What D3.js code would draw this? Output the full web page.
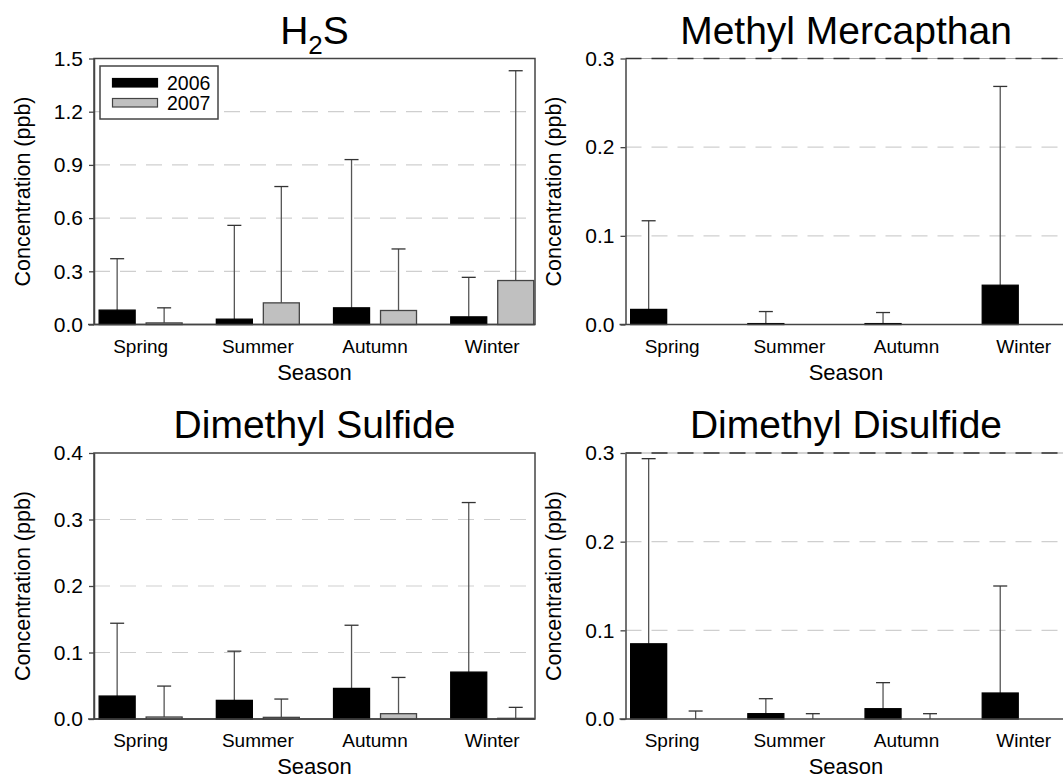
<!DOCTYPE html>
<html>
<head>
<meta charset="utf-8">
<script src="https://cdn.jsdelivr.net/npm/d3@7"></script>
<style>
  body { margin: 0; background: #fff; }
  svg { display: block; font-family: "Liberation Sans", Arial, sans-serif; }
</style>
</head>
<body>
<div id="chart"></div>
<script>
const seasons = ["Spring", "Summer", "Autumn", "Winter"];
const years = ["2006", "2007"];

// mean concentration and top of error bar (ppb), per season
const h2s2006 = [0.081, 0.03, 0.094, 0.043];
const h2s2007 = [0.009, 0.122, 0.079, 0.248];
const h2sUpper2006 = [0.371, 0.559, 0.93, 0.266];
const h2sUpper2007 = [0.094, 0.778, 0.426, 1.431];

const mm2006 = [0.017, 0.001, 0.001, 0.0443];
const mm2007 = [null, null, null, null];
const mmUpper2006 = [0.117, 0.0146, 0.0135, 0.2685];
const mmUpper2007 = [null, null, null, null];

const dms2006 = [0.0345, 0.028, 0.046, 0.0705];
const dms2007 = [0.003, 0.0025, 0.008, 0.001];
const dmsUpper2006 = [0.144, 0.102, 0.141, 0.3255];
const dmsUpper2007 = [0.0495, 0.03, 0.0625, 0.0175];

const dmds2006 = [0.0848, 0.006, 0.0116, 0.0293];
const dmds2007 = [0, 0, 0, null];
const dmdsUpper2006 = [0.2936, 0.0229, 0.041, 0.15];
const dmdsUpper2007 = [0.009, 0.006, 0.006, null];

const width = 1063;
const height = 778;
const plotW = 441;
const plotH = 266;
const font = '"Liberation Sans", Arial, sans-serif';
const axisColor = "#444";
const barColors = { 2006: "#000", 2007: "#c0c0c0" };

const panels = [
  { title: "H2S", yMax: 1.5, step: 0.3, means: [h2s2006, h2s2007], upper: [h2sUpper2006, h2sUpper2007],
    left: 94, top: 58.5, box: true, legend: true, labelX: 22 },
  { title: "Methyl Mercapthan", yMax: 0.3, step: 0.1, means: [mm2006, mm2007], upper: [mmUpper2006, mmUpper2007],
    left: 625.5, top: 58.5, box: false, labelX: 553 },
  { title: "Dimethyl Sulfide", yMax: 0.4, step: 0.1, means: [dms2006, dms2007], upper: [dmsUpper2006, dmsUpper2007],
    left: 94, top: 453, box: true, labelX: 22 },
  { title: "Dimethyl Disulfide", yMax: 0.3, step: 0.1, means: [dmds2006, dmds2007], upper: [dmdsUpper2006, dmdsUpper2007],
    left: 625.5, top: 453, box: false, labelX: 553 },
];

const svg = d3
  .select("#chart")
  .append("svg")
  .attr("width", width)
  .attr("height", height);

svg.append("rect").attr("width", width).attr("height", height).attr("fill", "#fff");

const drawPanel = (p) => {
  const g = svg.append("g").attr("transform", `translate(${p.left},${p.top})`);

  const x0 = d3
    .scaleBand()
    .domain(seasons)
    .range([0, plotW])
    .paddingInner(0.292)
    .paddingOuter(0.0275)
    .align(0.8);

  const x1 = d3
    .scaleBand()
    .domain(years)
    .range([0, x0.bandwidth()])
    .paddingInner(0.234);

  const y = d3.scaleLinear().domain([0, p.yMax]).range([plotH, 0]);
  const ticks = d3.range(0, p.yMax + p.step / 2, p.step);

  // grid lines
  const gridTicks = ticks.filter((t) => t > 0 && (!p.box || t < p.yMax - 1e-9));
  g.selectAll(".grid")
    .data(gridTicks)
    .join("line")
    .attr("class", "grid")
    .attr("x1", 0)
    .attr("x2", plotW)
    .attr("y1", (d) => y(d))
    .attr("y2", (d) => y(d))
    .attr("stroke", "#cfcfcf")
    .attr("stroke-width", 1.2)
    .attr("stroke-dasharray", "16,10");

  if (p.box) {
    g.append("rect")
      .attr("x", 0)
      .attr("y", 0)
      .attr("width", plotW)
      .attr("height", plotH)
      .attr("fill", "none")
      .attr("stroke", axisColor)
      .attr("stroke-width", 1.5);
  } else {
    g.append("line")
      .attr("x1", 0)
      .attr("x2", plotW)
      .attr("y1", 0)
      .attr("y2", 0)
      .attr("stroke", "#aaa")
      .attr("stroke-width", 1.2);
    g.append("line")
      .attr("x1", 0)
      .attr("x2", plotW)
      .attr("y1", 0)
      .attr("y2", 0)
      .attr("stroke", "#333")
      .attr("stroke-width", 1.5)
      .attr("stroke-dasharray", "16,10");
  }

  // bars and error bars
  const rows = [];
  seasons.forEach((s, i) => {
    years.forEach((yr, k) => {
      rows.push({ season: s, year: yr, mean: p.means[k][i], upper: p.upper[k][i] });
    });
  });

  const capW = 14;
  const errRows = rows.filter((d) => d.upper != null);
  const cx = (d) => x0(d.season) + x1(d.year) + x1.bandwidth() / 2;

  g.selectAll(".err")
    .data(errRows)
    .join("line")
    .attr("class", "err")
    .attr("x1", cx)
    .attr("x2", cx)
    .attr("y1", (d) => y(d.mean || 0))
    .attr("y2", (d) => y(d.upper))
    .attr("stroke", "#555")
    .attr("stroke-width", 1.3);

  g.selectAll(".cap")
    .data(errRows)
    .join("line")
    .attr("class", "cap")
    .attr("x1", (d) => cx(d) - capW / 2)
    .attr("x2", (d) => cx(d) + capW / 2)
    .attr("y1", (d) => y(d.upper))
    .attr("y2", (d) => y(d.upper))
    .attr("stroke", "#333")
    .attr("stroke-width", 1.3);

  g.selectAll(".bar")
    .data(rows.filter((d) => d.mean))
    .join("rect")
    .attr("class", "bar")
    .attr("x", (d) => x0(d.season) + x1(d.year))
    .attr("y", (d) => y(d.mean))
    .attr("width", x1.bandwidth())
    .attr("height", (d) => y(0) - y(d.mean))
    .attr("fill", (d) => barColors[d.year])
    .attr("stroke", (d) => (d.year === "2007" ? "#444" : "#000"))
    .attr("stroke-width", 1.3);

  // y axis
  const yAxis = d3
    .axisLeft(y)
    .tickValues(ticks)
    .tickSize(5)
    .tickSizeOuter(0)
    .tickPadding(6)
    .tickFormat(d3.format(".1f"));

  g.append("g")
    .call(yAxis)
    .call((a) => a.select(".domain").attr("stroke", axisColor).attr("stroke-width", 1.5))
    .call((a) => a.selectAll(".tick line").attr("stroke", axisColor).attr("stroke-width", 1.3))
    .call((a) =>
      a.selectAll(".tick text")
        .attr("font-family", font)
        .attr("font-size", 21)
        .attr("fill", "#000")
    );

  // x axis baseline
  g.append("line")
    .attr("x1", -6)
    .attr("x2", plotW)
    .attr("y1", plotH)
    .attr("y2", plotH)
    .attr("stroke", axisColor)
    .attr("stroke-width", 1.5);

  g.selectAll(".season")
    .data(seasons)
    .join("text")
    .attr("class", "season")
    .attr("x", (d) => x0(d) + x0.bandwidth() / 2)
    .attr("y", plotH + 28)
    .attr("text-anchor", "middle")
    .attr("font-size", 19)
    .text((d) => d);

  g.append("text")
    .attr("x", plotW / 2)
    .attr("y", plotH + 55)
    .attr("text-anchor", "middle")
    .attr("font-size", 22)
    .text("Season");

  svg.append("text")
    .attr("transform", `translate(${p.labelX},${p.top + plotH / 2}) rotate(-90)`)
    .attr("text-anchor", "middle")
    .attr("dy", "0.35em")
    .attr("font-size", 21.5)
    .text("Concentration (ppb)");

  // title
  const title = g.append("text")
    .attr("x", plotW / 2)
    .attr("y", -15)
    .attr("text-anchor", "middle")
    .attr("font-size", 39);
  if (p.title === "H2S") {
    title.append("tspan").text("H");
    title.append("tspan").attr("font-size", 26).attr("dy", 10).text("2");
    title.append("tspan").attr("dy", -10).text("S");
  } else {
    title.text(p.title);
  }

  if (p.legend) {
    const lg = g.append("g").attr("transform", "translate(6,7.5)");
    lg.append("rect")
      .attr("width", 118)
      .attr("height", 53)
      .attr("fill", "#fff")
      .attr("stroke", axisColor)
      .attr("stroke-width", 1.5);
    years.forEach((yr, k) => {
      lg.append("rect")
        .attr("x", 12.5)
        .attr("y", 12.5 + k * 20)
        .attr("width", 45)
        .attr("height", 8.5)
        .attr("fill", barColors[yr])
        .attr("stroke", yr === "2007" ? "#444" : "#000")
        .attr("stroke-width", 1.2);
      lg.append("text")
        .attr("x", 67)
        .attr("y", 23.5 + k * 20)
        .attr("font-size", 19.5)
        .text(yr);
    });
  }
};

panels.forEach(drawPanel);
</script>
</body>
</html>
